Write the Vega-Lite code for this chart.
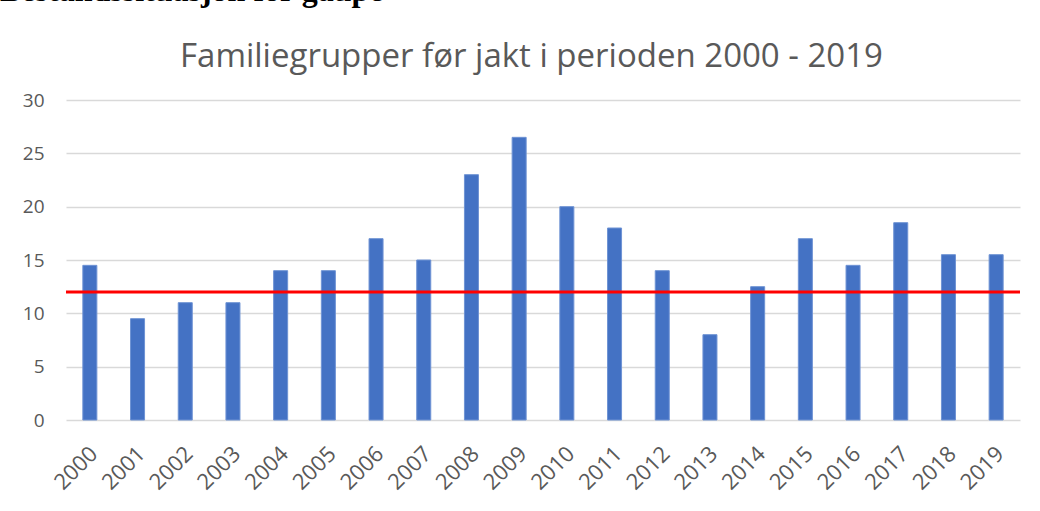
{
  "$schema": "https://vega.github.io/schema/vega-lite/v6.json",
  "width": 954,
  "height": 320,
  "autosize": {"type": "none"},
  "padding": {"left": 66, "top": 100, "right": 20, "bottom": 91},
  "background": "white",
  "title": {
    "text": "Bestandssituasjon for gaupe",
    "anchor": "start",
    "frame": "group",
    "font": "Liberation Serif",
    "fontSize": 32,
    "fontWeight": "bold",
    "color": "black",
    "baseline": "alphabetic",
    "offset": 7,
    "dx": -66
  },
  "config": {
    "view": {"stroke": null},
    "axis": {"labelFont": "Open Sans", "labelColor": "#595959", "labelFontSize": 19}
  },
  "data": {
    "values": [
      {"year": "2000", "value": 14.5},
      {"year": "2001", "value": 9.5},
      {"year": "2002", "value": 11},
      {"year": "2003", "value": 11},
      {"year": "2004", "value": 14},
      {"year": "2005", "value": 14},
      {"year": "2006", "value": 17},
      {"year": "2007", "value": 15},
      {"year": "2008", "value": 23},
      {"year": "2009", "value": 26.5},
      {"year": "2010", "value": 20},
      {"year": "2011", "value": 18},
      {"year": "2012", "value": 14},
      {"year": "2013", "value": 8},
      {"year": "2014", "value": 12.5},
      {"year": "2015", "value": 17},
      {"year": "2016", "value": 14.5},
      {"year": "2017", "value": 18.5},
      {"year": "2018", "value": 15.5},
      {"year": "2019", "value": 15.5}
    ]
  },
  "layer": [
    {
      "mark": {"type": "bar", "color": "#4472C4", "stroke": "#6f93d4", "strokeWidth": 1},
      "encoding": {
        "x": {
          "field": "year",
          "type": "ordinal",
          "scale": {"paddingInner": 0.706, "paddingOuter": 0.353},
          "axis": {
            "title": null,
            "labelAngle": -45,
            "labelAlign": "right",
            "labelBaseline": "middle",
            "labelFontSize": 22,
            "labelPadding": 30,
            "labelOffset": 4,
            "ticks": false,
            "domain": false,
            "grid": false
          }
        },
        "y": {
          "field": "value",
          "type": "quantitative",
          "scale": {"domain": [0, 30], "nice": false},
          "axis": {
            "values": [0, 5, 10, 15, 20, 25, 30],
            "ticks": false,
            "domain": false,
            "grid": true,
            "gridColor": "#d9d9d9",
            "gridWidth": 1.5,
            "labelPadding": 22,
            "title": "Familiegrupper før jakt i perioden 2000 - 2019",
            "titleAngle": 0,
            "titleAlign": "center",
            "titleBaseline": "alphabetic",
            "titleX": 465,
            "titleY": -34,
            "titleFont": "Open Sans",
            "titleFontWeight": "normal",
            "titleFontSize": 33,
            "titleColor": "#595959"
          }
        }
      }
    },
    {
      "data": {"values": [{"limit": 12}]},
      "mark": {"type": "rule", "color": "#ff0000", "strokeWidth": 3},
      "encoding": {"y": {"field": "limit", "type": "quantitative"}}
    }
  ]
}
